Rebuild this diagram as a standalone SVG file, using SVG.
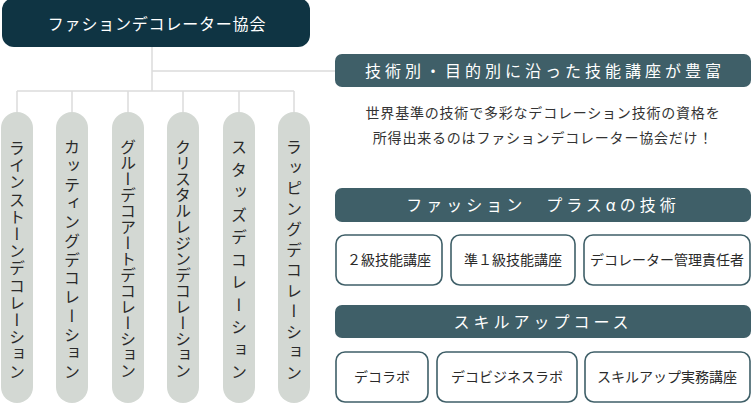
<svg xmlns="http://www.w3.org/2000/svg" width="752" height="403" viewBox="0 0 752 403">
<style>
.jp{font-family:"Noto Sans CJK JP","Noto Sans",sans-serif;}
.pill{fill:#d3d8d3;}
.vt{font-family:"Noto Sans CJK JP",sans-serif;font-size:16px;fill:#2a2a2a;writing-mode:vertical-rl;text-anchor:start;}
.band{fill:#3f5f68;}
.bt{font-family:"Noto Sans CJK JP",sans-serif;font-size:16px;fill:#ffffff;text-anchor:middle;letter-spacing:4px;}
.box{fill:#ffffff;stroke:#3f5f68;stroke-width:1.6;}
.xt{font-family:"Noto Sans CJK JP",sans-serif;font-size:14px;fill:#2a2a2a;text-anchor:middle;}
.pt{font-family:"Noto Sans CJK JP",sans-serif;font-size:14px;fill:#333333;text-anchor:middle;letter-spacing:0.8px;}
.ln{stroke:#dcdcdc;stroke-width:1.5;fill:none;}
</style>
<g id="connectors">
<path class="ln" d="M152 47V91M152 71H336M17 91H294M17 91V112M72 91V112M128 91V112M183 91V112M239 91V112M294 91V112"/>
</g>
<g id="root">
<rect x="2" y="-2" width="308" height="49" rx="12" fill="#0f3443"/>
<text class="jp" x="157" y="30" font-size="16" fill="#ffffff" text-anchor="middle" letter-spacing="0.8">ファションデコレーター協会</text>
</g>
<g id="p1"><rect class="pill" x="1" y="112" width="32" height="291" rx="16"/><text class="vt" x="17" y="140" letter-spacing="1.2">ラインストーンデコレーション</text></g>
<g id="p2"><rect class="pill" x="56" y="112" width="32" height="291" rx="16"/><text class="vt" x="72" y="139" letter-spacing="2.75">カッティングデコレーション</text></g>
<g id="p3"><rect class="pill" x="112" y="112" width="32" height="291" rx="16"/><text class="vt" x="128" y="139" letter-spacing="0">グルーデコアートデコレーション</text></g>
<g id="p4"><rect class="pill" x="167" y="112" width="32" height="291" rx="16"/><text class="vt" x="183" y="139" letter-spacing="0">クリスタルレジンデコレーション</text></g>
<g id="p5"><rect class="pill" x="223" y="112" width="32" height="291" rx="16"/><text class="vt" x="239" y="139" letter-spacing="6.5">スタッズデコレーション</text></g>
<g id="p6"><rect class="pill" x="278" y="112" width="32" height="291" rx="16"/><text class="vt" x="294" y="139" letter-spacing="4.5">ラッピングデコレーション</text></g>
<g id="b1"><rect class="band" x="335" y="54" width="416" height="33" rx="7"/><text class="bt" x="545" y="77">技術別・目的別に沿った技能講座が豊富</text></g>
<g id="desc">
<text class="pt" x="543" y="118">世界基準の技術で多彩なデコレーション技術の資格を</text>
<text class="pt" x="543" y="143">所得出来るのはファションデコレーター協会だけ！</text>
</g>
<g id="b2"><rect class="band" x="335" y="188" width="416" height="34" rx="7"/><text class="bt" x="543" y="211">ファッション　プラスαの技術</text></g>
<g id="c1"><rect class="box" x="336" y="235" width="106" height="50" rx="9"/><text class="xt" x="389" y="265">２級技能講座</text></g>
<g id="c2"><rect class="box" x="451" y="235" width="124" height="50" rx="9"/><text class="xt" x="513" y="265">準１級技能講座</text></g>
<g id="c3"><rect class="box" x="584" y="235" width="166" height="50" rx="9"/><text class="xt" x="667" y="265">デコレーター管理責任者</text></g>
<g id="b3"><rect class="band" x="335" y="305" width="416" height="33" rx="7"/><text class="bt" x="543" y="328">スキルアップコース</text></g>
<g id="d1"><rect class="box" x="336" y="352" width="92" height="50" rx="9"/><text class="xt" x="382" y="382">デコラボ</text></g>
<g id="d2"><rect class="box" x="437" y="352" width="140" height="50" rx="9"/><text class="xt" x="507" y="382">デコビジネスラボ</text></g>
<g id="d3"><rect class="box" x="585" y="352" width="165" height="50" rx="9"/><text class="xt" x="667" y="382">スキルアップ実務講座</text></g>
</svg>
